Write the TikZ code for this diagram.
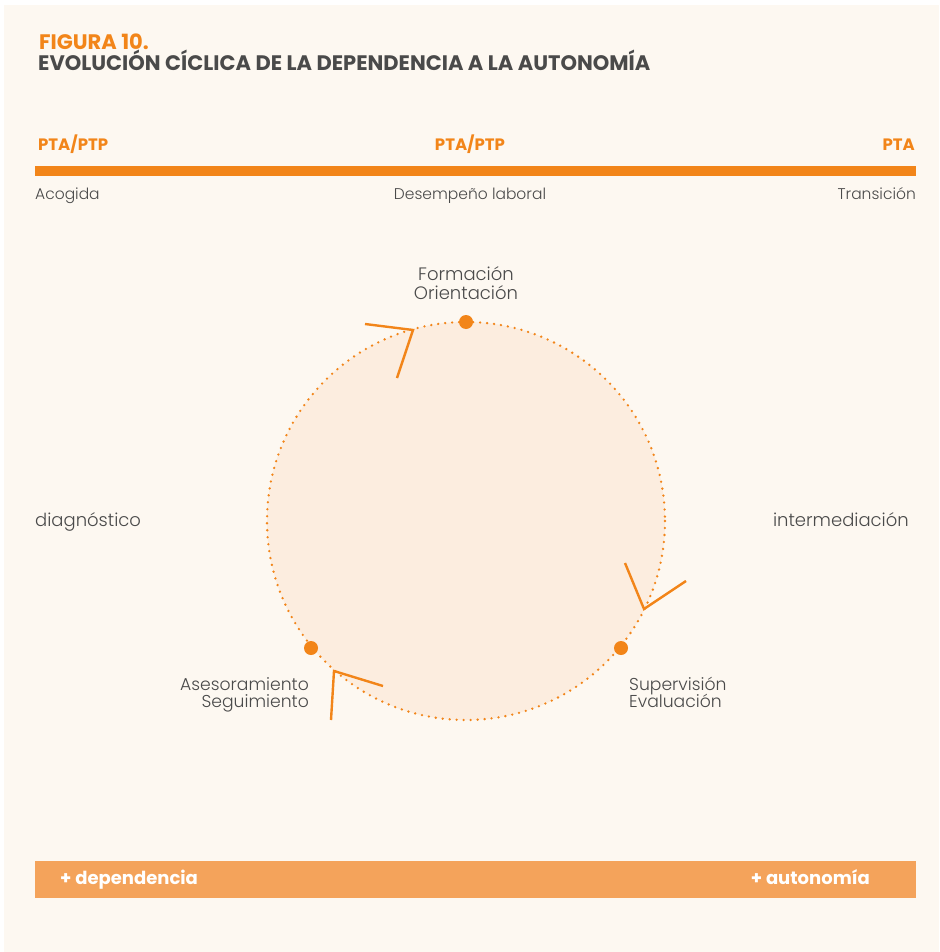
\documentclass[tikz,border=0pt]{standalone}
\usepackage{fontspec}
\setmainfont{Poppins}
\IfFontExistsTF{Poppins Light}{\newfontfamily\lightfont{Poppins Light}}{\newfontfamily\lightfont{Poppins}}
\definecolor{bgcream}{HTML}{FDF8F1}
\definecolor{circfill}{HTML}{FCEDDF}
\definecolor{orangeline}{HTML}{F28519}
\definecolor{barorange}{HTML}{F4A35B}
\definecolor{txtgray}{HTML}{4A4A4A}
\tikzset{
  titlelabel/.style={font=\bfseries\fontsize{21}{23}\selectfont, inner sep=0pt},
  boldlabel/.style={font=\bfseries\fontsize{16.5}{19}\selectfont, text=orangeline, inner sep=0pt},
  lightlabel/.style={font=\lightfont\fontsize{15.5}{17}\selectfont, text=txtgray, inner sep=0pt},
  cyclabel/.style={font=\lightfont\fontsize{18}{19}\selectfont, text=txtgray, inner sep=0pt, text height=12pt, text depth=3pt},
  stagelabel/.style={font=\lightfont\fontsize{17.2}{18}\selectfont, text=txtgray, inner sep=0pt, text height=12pt, text depth=3pt},
  stagedot/.style={circle, fill=orangeline, inner sep=0pt, minimum size=14pt},
  arrowv/.style={draw=orangeline, line width=2.4pt},
  bartext/.style={font=\bfseries\fontsize{18}{20}\selectfont, text=white, inner sep=0pt}
}
\begin{document}
\begin{tikzpicture}[x=1pt,y=-1pt]
\useasboundingbox (0,0) rectangle (939,952);
\fill[white] (0,0) rectangle (939,952);
\fill[bgcream] (4,5) rectangle (939,952);
% title
\node[titlelabel, anchor=base west, text=orangeline] (fig) at (39,50) {FIGURA 10.};
\node[titlelabel, anchor=base west, text=txtgray] (title) at (38,71) {EVOLUCIÓN CÍCLICA DE LA DEPENDENCIA A LA AUTONOMÍA};
% top scale
\node[boldlabel, anchor=base west] (p1) at (38,151) {PTA/PTP};
\node[boldlabel, anchor=base] (p2) at (470,151) {PTA/PTP};
\node[boldlabel, anchor=base east] (p3) at (915,151) {PTA};
\fill[orangeline] (35,166) rectangle (916,176);
\node[lightlabel, anchor=base west] (s1) at (35,199) {Acogida};
\node[lightlabel, anchor=base] (s2) at (470,199) {Desempeño laboral};
\node[lightlabel, anchor=base east] (s3) at (916,199) {Transición};
% side labels
\node[cyclabel, anchor=base west] (diag) at (35,526) {diagnóstico};
\node[cyclabel, anchor=base east] (inter) at (909,526) {intermediación};
% circle
\coordinate (c) at (466,521);
\fill[circfill] (c) circle[radius=199];
\draw[orangeline, line width=2.6pt, line cap=round, dash pattern=on 0pt off 7pt] (c) circle[radius=199];
\node[stagedot] (d1) at (466,322) {};
\node[stagedot] (d2) at (621,648) {};
\node[stagedot] (d3) at (311,648) {};
% stage labels
\node[cyclabel, anchor=base] (form1) at (466,280) {Formación};
\node[cyclabel, anchor=base] (form2) at (466,299) {Orientación};
\node[stagelabel, anchor=base west] (sup1) at (629,690) {Supervisión};
\node[stagelabel, anchor=base west] (sup2) at (629,707) {Evaluación};
\node[stagelabel, anchor=base east] (ase1) at (309,690) {Asesoramiento};
\node[stagelabel, anchor=base east] (ase2) at (309,707) {Seguimiento};
% arrow marks
\coordinate (a1) at (413,330); \coordinate (a1l) at (365,324); \coordinate (a1r) at (397,378);
\coordinate (a2) at (644,609); \coordinate (a2l) at (625,563); \coordinate (a2r) at (686,581);
\coordinate (a3) at (334,671); \coordinate (a3l) at (383,686); \coordinate (a3r) at (331,720);
\draw[arrowv] (a1l) -- (a1) -- (a1r);
\draw[arrowv] (a2l) -- (a2) -- (a2r);
\draw[arrowv] (a3l) -- (a3) -- (a3r);
% bottom bar
\fill[barorange] (35,861) rectangle (916,898);
\node[bartext, anchor=base west] (dep) at (60,884) {+ dependencia};
\node[bartext, anchor=base east] (aut) at (870,884) {+ autonomía};
\end{tikzpicture}
\end{document}
